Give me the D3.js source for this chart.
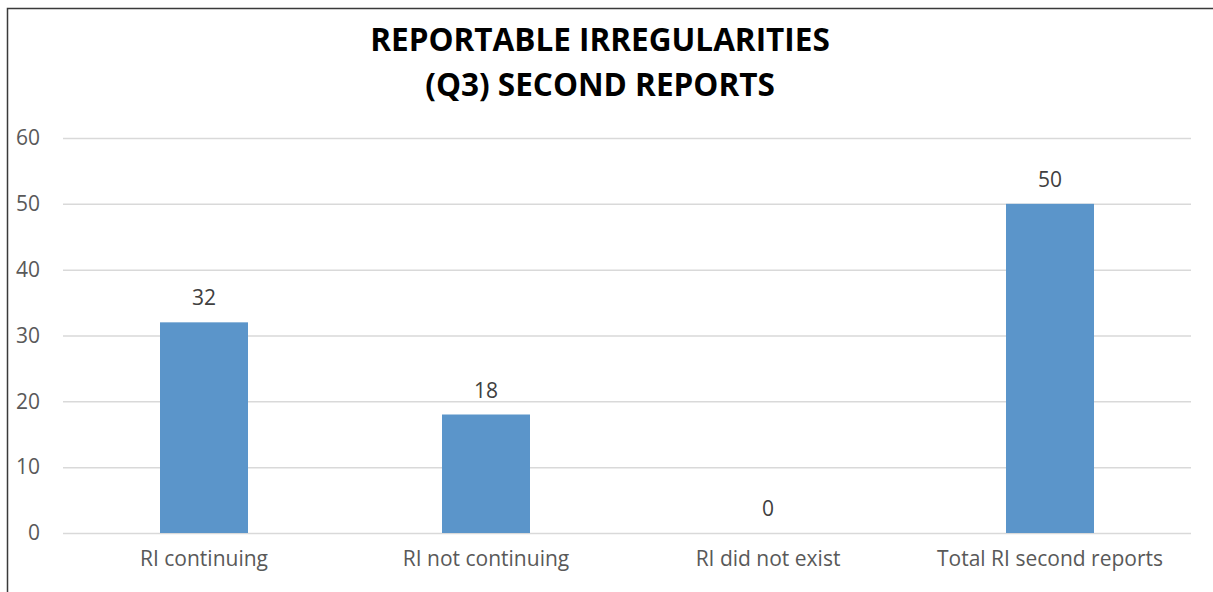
<!DOCTYPE html>
<html>
<head>
<meta charset="utf-8">
<script src="https://cdn.jsdelivr.net/npm/d3@7"></script>
<style>
  html, body { margin: 0; padding: 0; background: #fff; }
  svg { display: block; }
</style>
</head>
<body>
<svg id="chart" width="1213" height="592"></svg>
<script>
// chart values
const categories = ["RI continuing", "RI not continuing", "RI did not exist", "Total RI second reports"];
const values = [32, 18, 0, 50];
const yTicks = [0, 10, 20, 30, 40, 50, 60];
const titleLines = ["REPORTABLE IRREGULARITIES", "(Q3) SECOND REPORTS"];

let chart = d3.select("#chart"),
    margin = {top: 138, right: 22, bottom: 59, left: 63},
    width = +chart.attr("width") - margin.left - margin.right,
    height = +chart.attr("height") - margin.top - margin.bottom;

let x = d3.scaleBand()
    .domain(categories)
    .range([0, width])
    .paddingInner(0.688)
    .paddingOuter(0.344);

let y = d3.scaleLinear()
    .domain([0, 60])
    .range([height, 0]);

// outer frame (only top and left edges visible in the crop)
chart.append("path")
    .attr("d", "M7.5,592 V8.5 H1213")
    .attr("fill", "none")
    .attr("stroke", "#3a3a3a")
    .attr("stroke-width", 1.5);

// title
chart.append("g")
    .selectAll("text")
    .data(titleLines)
    .enter()
    .append("text")
    .attr("x", 600)
    .attr("y", (d, i) => 51 + i * 45)
    .attr("text-anchor", "middle")
    .attr("font-family", "Open Sans, sans-serif")
    .attr("font-weight", "bold")
    .attr("font-size", "31.5px")
    .attr("fill", "#000")
    .text(d => d);

let focus = chart.append("g")
    .attr("transform", "translate(" + margin.left + "," + margin.top + ")");

// y grid lines
focus.append("g")
    .attr("class", "grid")
    .call(d3.axisLeft(y)
        .tickValues(yTicks)
        .tickSize(-width)
        .tickFormat(""))
    .call(g => g.select(".domain").remove())
    .call(g => g.selectAll("line").attr("stroke", "#d9d9d9").attr("stroke-width", 1.5));

// y axis labels
focus.append("g")
    .attr("class", "axis axis--y")
    .call(d3.axisLeft(y).tickValues(yTicks).tickSize(0).tickPadding(23))
    .call(g => g.select(".domain").remove())
    .call(g => g.selectAll("text")
        .attr("font-family", "Open Sans, sans-serif")
        .attr("font-size", "21px")
        .attr("fill", "#595959"));

// bars
focus.selectAll("rect.bar")
    .data(values)
    .enter()
    .append("rect")
    .attr("class", "bar")
    .attr("x", (d, i) => x(categories[i]))
    .attr("y", d => y(d))
    .attr("width", x.bandwidth())
    .attr("height", d => height - y(d))
    .attr("fill", "#5b95ca");

// value labels
focus.selectAll("text.value")
    .data(values)
    .enter()
    .append("text")
    .attr("class", "value")
    .attr("x", (d, i) => x(categories[i]) + x.bandwidth() / 2)
    .attr("y", d => y(d) - 17)
    .attr("text-anchor", "middle")
    .attr("font-family", "Open Sans, sans-serif")
    .attr("font-size", "21px")
    .attr("fill", "#404040")
    .text(d => d);

// x axis labels
focus.append("g")
    .attr("class", "axis axis--x")
    .attr("transform", "translate(0," + height + ")")
    .call(d3.axisBottom(x).tickSize(0).tickPadding(18))
    .call(g => g.select(".domain").remove())
    .call(g => g.selectAll("text")
        .attr("font-family", "Open Sans, sans-serif")
        .attr("font-size", "21px")
        .attr("fill", "#595959"));
</script>
</body>
</html>
